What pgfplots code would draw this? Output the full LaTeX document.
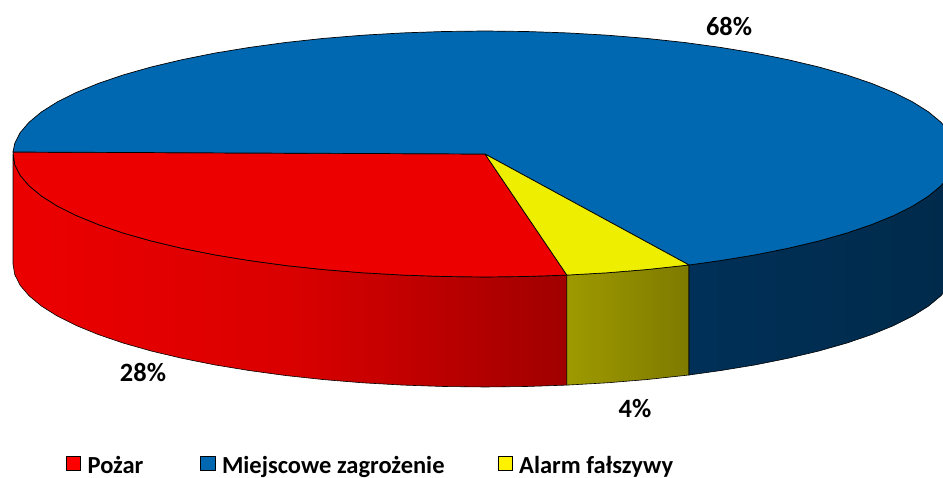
\documentclass[border=0pt]{standalone}
\usepackage{fontspec}
\setmainfont{Carlito}
\usepackage{pgfplots}
\pgfplotsset{compat=1.18}
\definecolor{rtop}{HTML}{EC0000}
\definecolor{rmid}{HTML}{DA0000}
\definecolor{rdark}{HTML}{A00000}
\definecolor{btop}{HTML}{0068B0}
\definecolor{ytop}{HTML}{EEEE00}
\definecolor{yleft}{HTML}{9E9A00}
\definecolor{yright}{HTML}{7E7A00}
\definecolor{bleft}{HTML}{003058}
\definecolor{bright}{HTML}{002A4A}

\begin{document}
\begin{tikzpicture}
\begin{axis}[
  scale only axis, width=943pt, height=481pt,
  xmin=0, xmax=943, ymin=0, ymax=481, y dir=reverse,
  hide axis, clip=true,
  legend columns=3,
  legend style={at={(axis cs:66,466)}, anchor=west, draw=none, fill=none,
    font=\bfseries\fontsize{24.5}{28}\selectfont,
    inner sep=0pt, outer sep=0pt,
    /tikz/column 1/.style={column sep=5pt},
    /tikz/column 2/.style={column sep=55pt},
    /tikz/column 3/.style={column sep=5pt},
    /tikz/column 4/.style={column sep=51pt},
    /tikz/column 5/.style={column sep=5pt}},
  legend cell align=left,
  legend image code/.code={\draw[#1,/tikz/.cd,yshift=0.3em] (0cm,-0.25cm) rectangle (0.5cm,0.25cm);},
]
% side walls
\addplot[forget plot, draw=black, line width=0.6pt, left color=rtop, right color=rdark, middle color=rmid] coordinates {
  (13,154)(14.8,164.7)(20.2,175.4)(29.1,185.8)(41.5,196.1)(57.2,206)(76.2,215.5)(98.4,224.6)(123.4,233.1)(151.2,241)(181.6,248.2)(214.3,254.8)(249,260.5)(285.5,265.5)(323.6,269.6)(362.8,272.8)(403.1,275.1)(443.9,276.5)(485,277)(526.1,276.5)(566.9,275.1)
  (566.9,385.1)(526.1,386.5)(485,387)(443.9,386.5)(403.1,385.1)(362.8,382.8)(323.6,379.6)(285.5,375.5)(249,370.5)(214.3,364.8)(181.6,358.2)(151.2,351)(123.4,343.1)(98.4,334.6)(76.2,325.5)(57.2,316)(41.5,306.1)(29.1,295.8)(20.2,285.4)(14.8,274.7)(13,264) (13,154)};
\addplot[forget plot, draw=black, line width=0.6pt, left color=yleft, right color=yright] coordinates {
  (566.9,275.1)(607.2,272.8)(646.4,269.6)(689,265)
  (689,375)(646.4,379.6)(607.2,382.8)(566.9,385.1)(566.9,275.1)};
\addplot[forget plot, draw=black, line width=0.6pt, left color=bleft, right color=bright] coordinates {
  (689,265)(721,260.5)(755.7,254.8)(788.4,248.2)(818.8,241)(846.6,233.1)(871.6,224.6)(893.8,215.5)(912.8,206)(928.5,196.1)(940.9,185.8)(949.8,175.4)(955.2,164.7)(957,154)
  (957,264)(955.2,274.7)(949.8,285.4)(940.9,295.8)(928.5,306.1)(912.8,316)(893.8,325.5)(871.6,334.6)(846.6,343.1)(818.8,351)(788.4,358.2)(755.7,364.8)(721,370.5)(689,375)(689,265)};
% top slices
\addplot[draw=black, line width=0.7pt, fill=rtop, forget plot] coordinates {
  (485,154)(13,152)(14.8,164.7)(20.2,175.4)(29.1,185.8)(41.5,196.1)(57.2,206)(76.2,215.5)(98.4,224.6)(123.4,233.1)(151.2,241)(181.6,248.2)(214.3,254.8)(249,260.5)(285.5,265.5)(323.6,269.6)(362.8,272.8)(403.1,275.1)(443.9,276.5)(485,277)(526.1,276.5)(566.9,275.1)(485,154)};
\addplot[draw=black, line width=0.7pt, fill=btop, forget plot] coordinates {
  (485,154)(689,265)(721,260.5)(755.7,254.8)(788.4,248.2)(818.8,241)(846.6,233.1)(871.6,224.6)(893.8,215.5)(912.8,206)(928.5,196.1)(940.9,185.8)(949.8,175.4)(955.2,164.7)(957,154)
  (955.2,143.3)(949.8,132.6)(940.9,122.2)(928.5,111.9)(912.8,102)(893.8,92.5)(871.6,83.4)(846.6,74.9)(818.8,67)(788.4,59.8)(755.7,53.2)(721,47.5)(684.5,42.5)(646.4,38.4)(607.2,35.2)(566.9,32.9)(526.1,31.5)(485,31)(443.9,31.5)(403.1,32.9)(362.8,35.2)(323.6,38.4)(285.5,42.5)(249,47.5)(214.3,53.2)(181.6,59.8)(151.2,67)(123.4,74.9)(98.4,83.4)(76.2,92.5)(57.2,102)(41.5,111.9)(29.1,122.2)(20.2,132.6)(14.8,143.3)(13,152)(485,154)};
\addplot[draw=black, line width=0.7pt, fill=ytop, forget plot] coordinates {
  (485,154)(566.9,275.1)(607.2,272.8)(646.4,269.6)(689,265)(485,154)};
% legend only
\addplot[draw=black, fill=red] coordinates {(-50,-50)(-49,-50)};
\addlegendentry{Pożar}
\addplot[draw=black, fill=btop] coordinates {(-50,-50)(-49,-50)};
\addlegendentry{Miejscowe zagrożenie}
\addplot[draw=black, fill=yellow] coordinates {(-50,-50)(-49,-50)};
\addlegendentry{Alarm fałszywy}
% data labels
\node[font=\bfseries\fontsize{26.4}{28}\selectfont] at (axis cs:729,26) {68\%};
\node[font=\bfseries\fontsize{26.4}{28}\selectfont] at (axis cs:143,372) {28\%};
\node[font=\bfseries\fontsize{26.4}{28}\selectfont] at (axis cs:635,409) {4\%};
\end{axis}
\end{tikzpicture}
\end{document}
